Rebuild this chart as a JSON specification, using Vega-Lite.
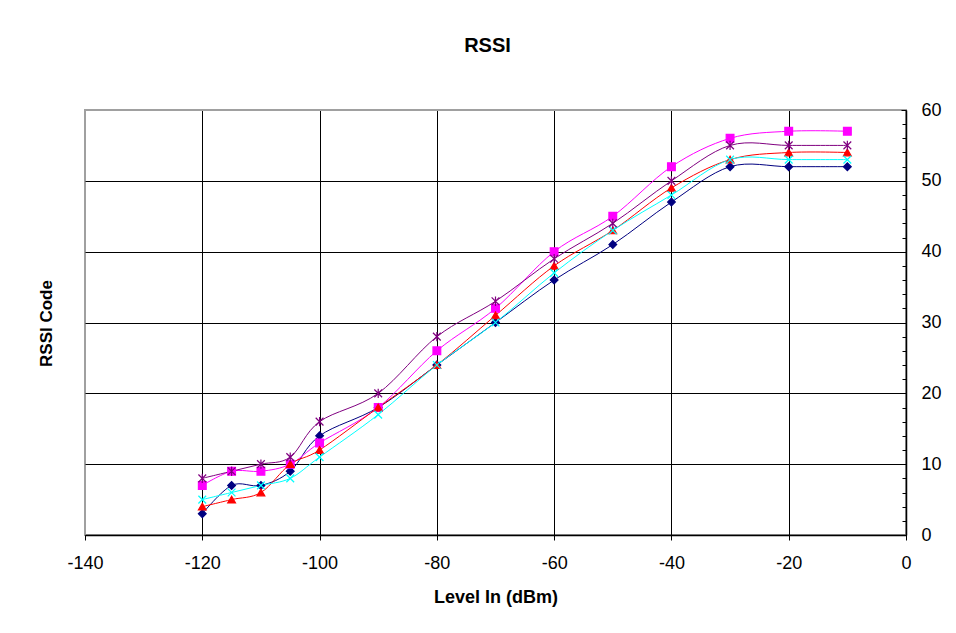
{
  "$schema": "https://vega.github.io/schema/vega-lite/v6.json",
  "width": 821,
  "height": 425,
  "autosize": "none",
  "padding": {"left": 85, "top": 110, "right": 50, "bottom": 98},
  "background": "white",
  "config": {
    "font": "Liberation Sans",
    "view": {"stroke": "#a0a0a0", "strokeWidth": 2}
  },
  "title": {"text": "RSSI", "fontSize": 20, "fontWeight": "bold", "offset": 45, "dx": -8, "color": "black", "font": "Liberation Sans"},
  "data": {
    "values": [
      {"x": -120, "series": "S1", "y": 3}, {"x": -115, "series": "S1", "y": 7}, {"x": -110, "series": "S1", "y": 7}, {"x": -105, "series": "S1", "y": 9}, {"x": -100, "series": "S1", "y": 14}, {"x": -90, "series": "S1", "y": 18}, {"x": -80, "series": "S1", "y": 24}, {"x": -70, "series": "S1", "y": 30}, {"x": -60, "series": "S1", "y": 36}, {"x": -50, "series": "S1", "y": 41}, {"x": -40, "series": "S1", "y": 47}, {"x": -30, "series": "S1", "y": 52}, {"x": -20, "series": "S1", "y": 52}, {"x": -10, "series": "S1", "y": 52},
      {"x": -120, "series": "S2", "y": 7}, {"x": -115, "series": "S2", "y": 9}, {"x": -110, "series": "S2", "y": 9}, {"x": -105, "series": "S2", "y": 10}, {"x": -100, "series": "S2", "y": 13}, {"x": -90, "series": "S2", "y": 18}, {"x": -80, "series": "S2", "y": 26}, {"x": -70, "series": "S2", "y": 32}, {"x": -60, "series": "S2", "y": 40}, {"x": -50, "series": "S2", "y": 45}, {"x": -40, "series": "S2", "y": 52}, {"x": -30, "series": "S2", "y": 56}, {"x": -20, "series": "S2", "y": 57}, {"x": -10, "series": "S2", "y": 57},
      {"x": -120, "series": "S3", "y": 4}, {"x": -115, "series": "S3", "y": 5}, {"x": -110, "series": "S3", "y": 6}, {"x": -105, "series": "S3", "y": 10}, {"x": -100, "series": "S3", "y": 12}, {"x": -90, "series": "S3", "y": 18}, {"x": -80, "series": "S3", "y": 24}, {"x": -70, "series": "S3", "y": 31}, {"x": -60, "series": "S3", "y": 38}, {"x": -50, "series": "S3", "y": 43}, {"x": -40, "series": "S3", "y": 49}, {"x": -30, "series": "S3", "y": 53}, {"x": -20, "series": "S3", "y": 54}, {"x": -10, "series": "S3", "y": 54},
      {"x": -120, "series": "S4", "y": 5}, {"x": -115, "series": "S4", "y": 6}, {"x": -110, "series": "S4", "y": 7}, {"x": -105, "series": "S4", "y": 8}, {"x": -100, "series": "S4", "y": 11}, {"x": -90, "series": "S4", "y": 17}, {"x": -80, "series": "S4", "y": 24}, {"x": -70, "series": "S4", "y": 30}, {"x": -60, "series": "S4", "y": 37}, {"x": -50, "series": "S4", "y": 43}, {"x": -40, "series": "S4", "y": 48}, {"x": -30, "series": "S4", "y": 53}, {"x": -20, "series": "S4", "y": 53}, {"x": -10, "series": "S4", "y": 53},
      {"x": -120, "series": "S5", "y": 8}, {"x": -115, "series": "S5", "y": 9}, {"x": -110, "series": "S5", "y": 10}, {"x": -105, "series": "S5", "y": 11}, {"x": -100, "series": "S5", "y": 16}, {"x": -90, "series": "S5", "y": 20}, {"x": -80, "series": "S5", "y": 28}, {"x": -70, "series": "S5", "y": 33}, {"x": -60, "series": "S5", "y": 39}, {"x": -50, "series": "S5", "y": 44}, {"x": -40, "series": "S5", "y": 50}, {"x": -30, "series": "S5", "y": 55}, {"x": -20, "series": "S5", "y": 55}, {"x": -10, "series": "S5", "y": 55}
    ]
  },
  "encoding": {
    "x": {
      "field": "x", "type": "quantitative",
      "scale": {"domain": [-140, 0], "nice": false, "zero": false},
      "axis": {
        "orient": "bottom",
        "values": [-140, -120, -100, -80, -60, -40, -20, 0],
        "labelExpr": "datum.value < 0 ? '-' + abs(datum.value) : '' + datum.value",
        "labelFlush": false,
        "grid": true,
        "gridColor": {"condition": {"test": "datum.value == -140", "value": "#a0a0a0"}, "value": "black"},
        "gridOpacity": 1, "gridWidth": 1,
        "domainColor": "black", "domainWidth": 1.5,
        "tickColor": "black", "tickSize": 5, "tickWidth": 1,
        "labelFontSize": 18, "labelColor": "black", "labelPadding": 14, "labelFont": "Liberation Sans",
        "title": "Level In (dBm)", "titleFontSize": 18, "titleFontWeight": "bold", "titleColor": "black", "titlePadding": 16, "titleFont": "Liberation Sans"
      }
    }
  },
  "layer": [
    {
      "mark": {"type": "line", "interpolate": "cardinal", "tension": 0, "strokeWidth": 1},
      "encoding": {
        "y": {
          "field": "y", "type": "quantitative",
          "scale": {"domain": [0, 60], "nice": false},
          "axis": {
            "orient": "right",
            "values": [0, 10, 20, 30, 40, 50, 60],
            "labelFlush": false,
            "grid": true,
            "gridColor": {"condition": {"test": "datum.value == 60", "value": "#a0a0a0"}, "value": "black"},
            "gridOpacity": 1, "gridWidth": 1,
            "domainColor": "black", "domainWidth": 1.5,
            "tickColor": "black", "tickSize": -5, "tickWidth": 1,
            "labelFontSize": 18, "labelColor": "black", "labelPadding": 20, "labelFont": "Liberation Sans",
            "title": null
          }
        },
        "color": {
          "field": "series", "type": "nominal",
          "scale": {"domain": ["S1", "S2", "S3", "S4", "S5"], "range": ["#000080", "#FF00FF", "#FF0000", "#00FFFF", "#800080"]},
          "legend": null
        }
      }
    },
    {
      "mark": {"type": "point", "opacity": 1, "strokeWidth": 1.2, "size": 60},
      "encoding": {
        "y": {
          "field": "y", "type": "quantitative",
          "axis": {
            "orient": "right",
            "values": [2, 4, 6, 8, 12, 14, 16, 18, 22, 24, 26, 28, 32, 34, 36, 38, 42, 44, 46, 48, 52, 54, 56, 58],
            "grid": false, "domain": false, "labels": false,
            "tickColor": "black", "tickSize": -4, "tickWidth": 1,
            "title": "RSSI Code", "titleFontSize": 17, "titleFontWeight": "bold", "titleColor": "black", "titleFont": "Liberation Sans",
            "titleX": -860, "titleY": 213, "titleAngle": -90, "titleAlign": "center", "titleBaseline": "middle"
          }
        },
        "shape": {
          "field": "series", "type": "nominal",
          "scale": {"domain": ["S1", "S2", "S3", "S4", "S5"], "range": ["diamond", "square", "triangle-up", "M-1,-1L1,1M-1,1L1,-1", "M-1,-1L1,1M-1,1L1,-1M0,-1.2L0,1.2"]},
          "legend": null
        },
        "stroke": {
          "field": "series", "type": "nominal",
          "scale": {"domain": ["S1", "S2", "S3", "S4", "S5"], "range": ["#000080", "#FF00FF", "#FF0000", "#00FFFF", "#800080"]},
          "legend": null
        },
        "fill": {
          "field": "series", "type": "nominal",
          "scale": {"domain": ["S1", "S2", "S3", "S4", "S5"], "range": ["#000080", "#FF00FF", "#FF0000", "transparent", "transparent"]},
          "legend": null
        }
      }
    }
  ],
  "resolve": {"scale": {"y": "shared"}, "axis": {"y": "independent"}}
}
